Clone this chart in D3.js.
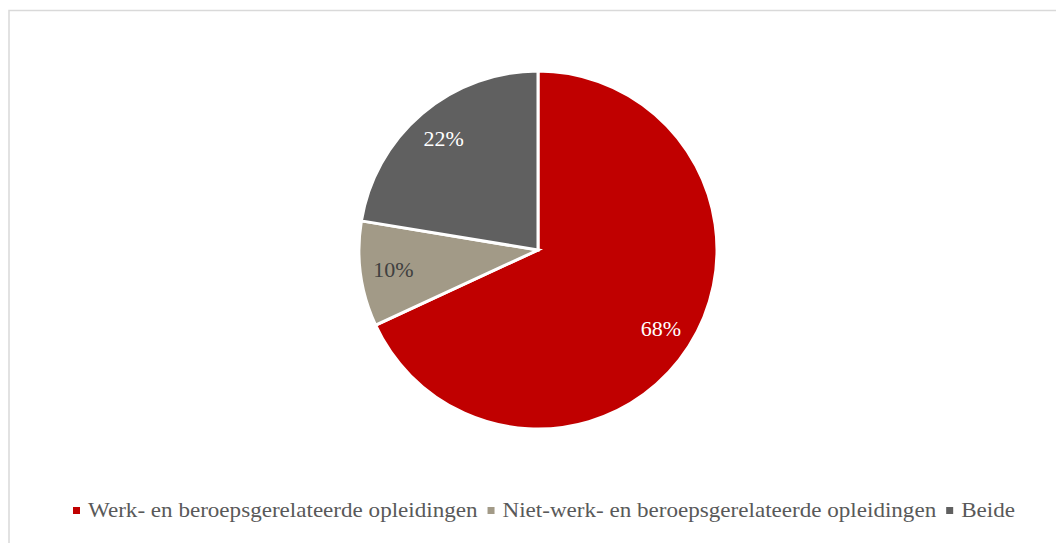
<!DOCTYPE html>
<html><head><meta charset="utf-8">
<script src="https://cdn.jsdelivr.net/npm/d3@7"></script>
<style>body{margin:0;background:#fff}svg{display:block}</style>
</head><body>
<svg id="c" width="1056" height="543"></svg>
<script>
const categories = ["Werk- en beroepsgerelateerde opleidingen", "Niet-werk- en beroepsgerelateerde opleidingen", "Beide"];
const values = [68.1, 9.5, 22.4];
const labels = ["68%", "10%", "22%"];
const colors = ["#C00000", "#A29A87", "#606060"];
const labelColors = ["#ffffff", "#404040", "#ffffff"];

const svg = d3.select("#c");
const font = "'Liberation Serif', 'DejaVu Serif', serif";
svg.append("rect").attr("x", 9).attr("y", 10.5).attr("width", 1100).attr("height", 600)
  .attr("fill", "#fff").attr("stroke", "#d9d9d9").attr("stroke-width", 1.5);

const cx = 538, cy = 250, R = 179;
const pie = d3.pie().sort(null).value(d => d)(values);
const arc = d3.arc().innerRadius(0).outerRadius(R);
const lab = d3.arc().innerRadius(R * 0.815).outerRadius(R * 0.815);
const g = svg.append("g").attr("transform", `translate(${cx},${cy})`);
g.selectAll("path").data(pie).join("path")
  .attr("d", arc).attr("fill", (d, i) => colors[i])
  .attr("stroke", "#fff").attr("stroke-width", 3).attr("stroke-linejoin", "miter");
g.selectAll("text").data(pie).join("text")
  .attr("transform", d => `translate(${lab.centroid(d)})`)
  .attr("text-anchor", "middle").attr("dy", "0.35em")
  .attr("font-family", font).attr("font-size", 22)
  .attr("fill", (d, i) => labelColors[i])
  .text((d, i) => labels[i]);

// legend
const fs = 21, mk = 7, pad = 15, gap = 10, targetLeft = 73, targetRight = 1015;
const lg = svg.append("g").attr("transform", "translate(0,517)");
const items = lg.selectAll("g").data(categories).join("g");
items.append("rect").attr("width", mk).attr("height", mk).attr("y", -10)
  .attr("fill", (d, i) => colors[i]);
const texts = items.append("text").attr("x", pad).attr("font-family", font).attr("font-size", fs)
  .attr("fill", "#595959").text(d => d);
const widths = texts.nodes().map(n => n.getComputedTextLength());
const natural = d3.sum(widths);
const avail = (targetRight - targetLeft) - categories.length * pad - (categories.length - 1) * gap;
const k = avail / natural;
let x = targetLeft;
items.each(function (d, i) {
  const w = widths[i] * k;
  d3.select(this).attr("transform", `translate(${x},0)`);
  d3.select(this).select("text").attr("textLength", w).attr("lengthAdjust", "spacingAndGlyphs");
  x += pad + w + gap;
});
</script>
</body></html>
